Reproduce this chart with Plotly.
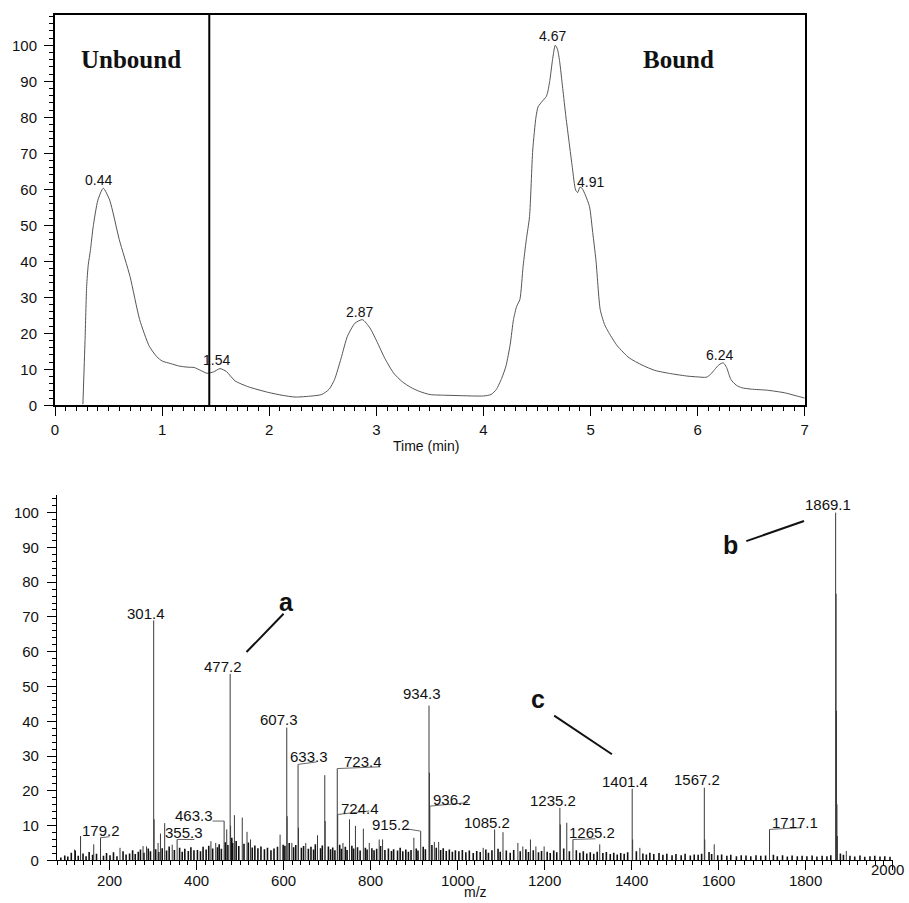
import plotly.graph_objects as go

# ------------------------------------------------------------------
# Top panel: chromatogram (relative abundance vs time)
# ------------------------------------------------------------------
time_min = [0.26, 0.28, 0.295, 0.31, 0.33, 0.356, 0.40, 0.45, 0.51, 0.60, 0.70, 0.79,
            0.88, 0.95, 1.00, 1.08, 1.16, 1.24, 1.30, 1.36, 1.42, 1.48, 1.54, 1.60,
            1.68, 1.80, 1.99, 2.12, 2.24, 2.40, 2.49, 2.56, 2.61, 2.67, 2.73, 2.80,
            2.87, 2.94, 3.01, 3.08, 3.16, 3.24, 3.32, 3.40, 3.50, 3.65, 3.78, 3.90,
            4.00, 4.07, 4.12, 4.17, 4.21, 4.25, 4.28, 4.31, 4.34, 4.37, 4.40, 4.43,
            4.46, 4.49, 4.51, 4.55, 4.585, 4.60, 4.62, 4.645, 4.67, 4.69, 4.71, 4.74,
            4.77, 4.80, 4.83, 4.86, 4.88, 4.90, 4.92, 4.95, 4.99, 5.02, 5.05, 5.09,
            5.13, 5.17, 5.25, 5.36, 5.48, 5.60, 5.75, 5.91, 6.00, 6.08, 6.12, 6.16,
            6.20, 6.24, 6.27, 6.31, 6.36, 6.41, 6.50, 6.65, 6.81, 6.90, 6.99, 7.00]
rel_abund = [0.3, 18.0, 33.0, 39.0, 43.0, 49.6, 57.0, 60.3, 57.0, 46.0, 35.8, 23.8,
             16.4, 13.5, 12.3, 11.6, 10.9, 10.6, 10.5, 9.7, 8.9, 9.3, 10.2, 9.4,
             6.8, 5.2, 3.6, 2.8, 2.3, 2.6, 3.0, 4.5, 7.2, 13.0, 19.2, 22.8,
             23.8, 21.5, 17.4, 13.0, 9.0, 6.6, 5.0, 3.9, 3.0, 2.8, 2.7, 2.6,
             2.6, 3.0, 4.4, 7.5, 10.9, 17.0, 23.8, 27.5, 29.4, 38.6, 46.0, 52.4,
             70.9, 80.0, 82.9, 84.5, 85.7, 87.0, 90.3, 96.0, 100.0, 99.0, 95.8, 88.0,
             80.1, 73.0, 66.0, 59.8, 59.1, 60.6, 60.3, 58.5, 55.2, 48.0, 40.4, 26.6,
             22.5, 20.2, 16.5, 13.2, 11.2, 9.7, 8.8, 8.1, 7.9, 7.8, 8.6, 10.0,
             11.3, 11.8, 10.5, 7.2, 5.6, 4.9, 4.5, 4.2, 3.5, 2.8, 2.1, 2.0]
peak_times = ["0.44", "1.54", "2.87", "4.67", "4.91", "6.24"]
region_labels = ["Unbound", "Bound"]
split_time = 1.44

# ------------------------------------------------------------------
# Bottom panel: mass spectrum (relative abundance vs m/z)
# ------------------------------------------------------------------
peak_mz = [119.6, 133.3, 163.6, 179.2, 224.0, 277.0, 285.0, 301.4, 302.4, 311.5,
           317.0, 326.7, 344.0, 355.3, 433.0, 444.0, 463.3, 469.3, 477.2, 478.2,
           487.0, 505.0, 516.0, 524.0, 592.0, 607.3, 608.3, 619.0, 633.3, 634.3,
           651.0, 678.0, 694.7, 695.7, 723.4, 724.4, 736.5, 751.6, 765.2, 783.4,
           797.0, 819.8, 827.6, 899.5, 915.2, 934.3, 935.3, 936.2, 946.6, 956.5,
           1058.9, 1085.2, 1104.4, 1138.6, 1150.0, 1167.5, 1180.0, 1199.0, 1235.2, 1236.2,
           1251.0, 1265.2, 1326.8, 1401.4, 1402.4, 1419.0, 1567.2, 1568.2, 1590.0, 1717.1,
           1869.1, 1870.1, 1871.1, 1872.1, 1873.1, 1893.6]
peak_int = [3.1, 7.0, 4.6, 6.5, 3.6, 4.1, 4.0, 69.0, 11.8, 5.0,
            7.7, 10.7, 4.5, 6.0, 5.5, 5.0, 11.3, 8.9, 53.6, 10.0,
            13.0, 12.3, 8.2, 6.0, 7.4, 38.2, 12.7, 5.0, 27.6, 9.4,
            5.0, 7.2, 24.5, 11.3, 26.4, 13.2, 5.0, 11.8, 9.9, 9.1,
            5.0, 6.0, 6.0, 6.5, 8.4, 44.5, 25.2, 15.6, 5.3, 5.3,
            3.6, 8.9, 8.1, 5.0, 4.0, 6.0, 4.0, 4.0, 15.1, 10.3,
            10.8, 6.0, 4.6, 20.6, 6.0, 3.6, 20.9, 6.0, 4.6, 8.9,
            100.0, 76.7, 43.0, 16.1, 7.0, 2.7]

noise_mz = [88, 97, 104, 112, 121, 128, 139, 146, 153, 161, 170, 186, 193,
            201, 209, 217, 231, 238, 246, 253, 259, 266, 271, 279, 289, 294,
            306, 313, 321, 331, 337, 349, 361, 367, 373, 381, 387, 394,
            402, 409, 415, 422, 428, 437, 448, 452, 457, 466, 472, 481, 483, 491, 497,
            509, 519, 528, 534, 541, 548, 556, 563, 571, 578, 586, 599,
            603, 613, 623, 628, 641, 646, 657, 663, 669, 673, 685, 689,
            703, 708, 713, 718, 729, 733, 742, 746, 757, 761, 770, 776, 788, 792,
            803, 808, 814, 823, 833, 841, 848, 853, 862, 868, 874, 881, 887, 893,
            905, 909, 921, 926, 941, 951, 961, 967, 974, 981, 988, 995,
            1003, 1011, 1019, 1027, 1036, 1044, 1052, 1065, 1071, 1079, 1093, 1098,
            1112, 1121, 1129, 1144, 1157, 1163, 1174, 1186, 1193,
            1206, 1213, 1221, 1228, 1244, 1257, 1273, 1281, 1289, 1297,
            1305, 1313, 1321, 1334, 1342, 1351, 1359, 1367, 1375, 1383, 1391,
            1411, 1426, 1434, 1442, 1451, 1463, 1472, 1481, 1493,
            1502, 1514, 1523, 1535, 1544, 1553, 1561, 1578, 1584, 1598,
            1607, 1619, 1628, 1641, 1652, 1663, 1674, 1686, 1697,
            1708, 1726, 1735, 1747, 1758, 1769, 1781, 1792,
            1803, 1815, 1826, 1838, 1849, 1858, 1880, 1887,
            1902, 1913, 1925, 1936, 1948, 1959, 1971, 1982, 1994]
noise_int = [0.8, 1.4, 1.1, 2.2, 2.8, 1.3, 2.0, 1.2, 2.4, 1.6, 1.9, 1.3, 2.1,
             1.5, 2.3, 1.2, 2.6, 1.7, 2.0, 2.9, 1.8, 2.5, 3.1, 2.2, 3.4, 2.6,
             3.2, 2.4, 3.5, 2.8, 4.0, 3.0, 3.6, 2.5, 3.3, 2.7, 3.8, 2.9,
             3.0, 2.6, 3.9, 3.1, 4.2, 3.4, 3.8, 4.6, 3.3, 5.2, 4.4, 6.5, 5.0, 5.6, 4.1,
             4.8, 5.1, 3.7, 4.3, 3.5, 4.0, 3.2, 3.6, 2.9, 3.4, 3.9, 4.5,
             4.2, 5.0, 3.8, 4.4, 3.6, 4.1, 3.3, 3.9, 3.1, 4.6, 3.5, 4.3,
             4.0, 3.2, 3.7, 2.9, 4.5, 3.3, 3.9, 3.0, 4.2, 3.4, 3.8, 2.8, 3.6, 3.1,
             3.5, 2.9, 3.3, 4.1, 3.0, 3.4, 2.7, 3.2, 2.8, 3.6, 2.6, 3.1, 2.5, 3.0,
             3.4, 2.8, 3.9, 3.2, 4.4, 3.6, 3.0, 3.5, 2.7, 3.1, 2.5, 2.9,
             2.6, 3.0, 2.3, 2.8, 2.1, 2.7, 2.4, 3.1, 2.2, 2.9, 3.3, 2.5,
             2.8, 2.2, 3.0, 2.6, 3.2, 2.4, 2.9, 2.3, 2.7,
             2.5, 2.1, 2.8, 2.3, 3.4, 2.6, 2.9, 2.2, 2.6, 2.0,
             2.3, 1.9, 2.5, 2.1, 2.4, 1.8, 2.2, 1.7, 2.1, 1.9, 2.3,
             2.6, 2.0, 1.7, 2.2, 1.8, 2.1, 1.6, 1.9, 1.5,
             1.8, 1.5, 1.9, 1.4, 1.7, 1.6, 1.9, 2.4, 1.8, 1.5,
             1.7, 1.3, 1.6, 1.2, 1.5, 1.4, 1.2, 1.5, 1.3,
             1.4, 1.6, 1.2, 1.5, 1.1, 1.4, 1.2, 1.3,
             1.2, 1.4, 1.1, 1.3, 1.2, 1.5, 2.0, 1.6,
             1.3, 1.1, 1.4, 1.0, 1.2, 1.3, 1.1, 1.2, 1.0]

label_mz = [179.2, 301.4, 355.3, 463.3, 477.2, 607.3, 633.3, 723.4, 724.4, 915.2,
            934.3, 936.2, 1085.2, 1235.2, 1265.2, 1401.4, 1567.2, 1717.1, 1869.1]
callouts = ["a", "b", "c"]

top_x_ticks = [0, 1, 2, 3, 4, 5, 6, 7]
bottom_x_ticks = [200, 400, 600, 800, 1000, 1200, 1400, 1600, 1800, 2000]
y_ticks = [0, 10, 20, 30, 40, 50, 60, 70, 80, 90, 100]

# ------------------------------------------------------------------
# Layout positions (placement only)
# ------------------------------------------------------------------
W, H = 909, 903          # design frame (fractions computed against this)
H_PAGE = 914             # layout height; the capture squeezes the page slightly
top_label_pos = [(0.41, 62.6), (1.51, 12.5), (2.84, 26.0), (4.64, 102.6), (5.00, 62.0), (6.20, 14.1)]
region_label_pos = [(0.71, 96.1), (5.82, 96.1)]
label_pos = [(179.5, 8.7), (283, 70.9), (370.3, 7.9), (395, 13.0), (460.6, 55.8),
             (589.7, 40.6), (658, 29.9), (781.8, 28.3), (776, 14.9), (846.5, 10.3),
             (917.7, 48.1), (986.8, 17.5), (1068.4, 11.0), (1219, 17.3), (1308, 7.9),
             (1384.8, 22.8), (1551.5, 23.3), (1775.9, 11.0), (1852, 102.4)]
leader_end = {179.2: (200, 6.8), 355.3: (394.9, 6.0), 463.3: (436.7, 11.3),
              633.3: (675.8, 28.3), 723.4: (822, 26.9), 724.4: (797, 14.2),
              915.2: (880.6, 9.1), 936.2: (1024, 16.6), 1265.2: (1317, 6.2),
              1717.1: (1790.5, 9.4)}
callout_text_pos = [(607.5, 73.8, 2), (1626.6, 90.7, 0), (1184, 45.9, 2)]
callout_lines = [((514.8, 59.9), (600, 70.9)), ((1663.7, 91.8), (1796.4, 97.6)),
                 ((1222, 41.6), (1354.8, 30.5))]

FONT = "Liberation Sans, Arial, Helvetica, sans-serif"
SERIF = "Liberation Serif, Times New Roman, serif"

fig = go.Figure()

# chromatogram
fig.add_trace(go.Scatter(x=time_min, y=rel_abund, mode="lines",
                         line=dict(color="#555555", width=1, shape="spline", smoothing=0.6),
                         xaxis="x", yaxis="y", hoverinfo="skip", showlegend=False))

# spectrum sticks
def sticks(xs, ys):
    sx, sy = [], []
    for m, h in zip(xs, ys):
        sx += [m, m, None]
        sy += [0, h, None]
    return sx, sy

nx, ny = sticks(noise_mz, noise_int)
fig.add_trace(go.Scatter(x=nx, y=ny, mode="lines", line=dict(color="#111111", width=1.6),
                         xaxis="x2", yaxis="y2", hoverinfo="skip", showlegend=False))
px_, py_ = sticks(peak_mz, peak_int)
fig.add_trace(go.Scatter(x=px_, y=py_, mode="lines", line=dict(color="#3a3a3a", width=1),
                         xaxis="x2", yaxis="y2", hoverinfo="skip", showlegend=False))

annotations = []
shapes = []

# top peak labels
for txt, (x, y) in zip(peak_times, top_label_pos):
    annotations.append(dict(x=x, y=y, xref="x", yref="y", text=txt, showarrow=False,
                            font=dict(family=FONT, size=14, color="#111")))
for txt, (x, y) in zip(region_labels, region_label_pos):
    annotations.append(dict(x=x, y=y, xref="x", yref="y", text="<b>%s</b>" % txt, showarrow=False,
                            font=dict(family=SERIF, size=25, color="#111")))
shapes.append(dict(type="line", xref="x", yref="y domain", x0=split_time, x1=split_time, y0=0, y1=1,
                   line=dict(color="black", width=2)))

# bottom peak labels and leaders
peak_lookup = dict(zip(peak_mz, peak_int))
for m, (x, y) in zip(label_mz, label_pos):
    annotations.append(dict(x=x, y=y, xref="x2", yref="y2", text="%.1f" % m, showarrow=False,
                            font=dict(family=FONT, size=15, color="#111")))
    if m in leader_end:
        ex, ey = leader_end[m]
        shapes.append(dict(type="line", xref="x2", yref="y2", x0=m, y0=peak_lookup.get(m, ey), x1=ex, y1=ey,
                           line=dict(color="#666666", width=1)))
for txt, (x, y, ys), ((x0, y0), (x1, y1)) in zip(callouts, callout_text_pos, callout_lines):
    annotations.append(dict(x=x, y=y, xref="x2", yref="y2", text="<b>%s</b>" % txt, showarrow=False,
                            yshift=ys, font=dict(family=FONT, size=25, color="#111")))
    shapes.append(dict(type="line", xref="x2", yref="y2", x0=x0, y0=y0, x1=x1, y1=y1,
                       line=dict(color="#111111", width=2)))

# axis titles
annotations.append(dict(x=426 / W, y=1 - 445 / H, xref="paper", yref="paper", text="Time (min)",
                        showarrow=False, font=dict(family=FONT, size=14, color="#111")))
annotations.append(dict(x=476 / W, y=1 - 898 / H, xref="paper", yref="paper", text="m/z",
                        showarrow=False, borderpad=0, font=dict(family=FONT, size=14, color="#111")))
# last bottom tick label sits at the right page edge (clipped in the original)
annotations.append(dict(x=1.0, y=1 - 876 / H, xref="paper", yref="paper", text="2000",
                        xanchor="right", showarrow=False, borderpad=0,
                        font=dict(family=FONT, size=15, color="#111")))

tickfont = dict(family=FONT, size=15, color="#111")
common = dict(showgrid=False, zeroline=False, ticks="outside", tickcolor="black",
              tickwidth=1, ticklen=9, tickfont=tickfont, linecolor="black", showline=True)

fig.update_layout(
    width=W, height=H_PAGE, margin=dict(l=0, r=0, t=0, b=0),
    paper_bgcolor="white", plot_bgcolor="white", showlegend=False,
    xaxis=dict(domain=[51.5 / W, 808 / W], range=[0, 7.001], tickvals=top_x_ticks, linewidth=2,
               mirror=True, anchor="y", ticklabelstandoff=1,
               minor=dict(dtick=0.1, ticklen=4, ticks="outside", tickcolor="black"), **common),
    yaxis=dict(domain=[1 - 404 / H, 1 - 15 / H], range=[0, 108.4], tickvals=y_ticks, linewidth=2,
               mirror=True, anchor="x", ticklabelstandoff=4,
               minor=dict(dtick=2, ticklen=4, ticks="outside", tickcolor="black"), **common),
    xaxis2=dict(domain=[53.4 / W, 896.7 / W], range=[79, 2000.5], tickvals=bottom_x_ticks,
                ticktext=[str(v) if v < 2000 else "" for v in bottom_x_ticks], linewidth=1,
                anchor="y2", ticklabelstandoff=-2,
                minor=dict(dtick=20, ticklen=4, ticks="outside", tickcolor="black"), **common),
    yaxis2=dict(domain=[1 - 857.5 / H, 1 - 493.6 / H], range=[0, 105], tickvals=y_ticks, linewidth=1,
                anchor="x2", ticklabelstandoff=5,
                minor=dict(dtick=2, ticklen=4, ticks="outside", tickcolor="black"), **common),
    annotations=annotations, shapes=shapes,
)

post = (
    "var d=document.getElementById('{plot_id}');"
    "var b=document.body.style;b.margin='0';b.padding='0';b.overflow='hidden';"
    "document.documentElement.style.overflow='hidden';"
    "d.style.overflow='hidden';"
)

fig.write_html("out.html", config={"displayModeBar": False}, post_script=post)
